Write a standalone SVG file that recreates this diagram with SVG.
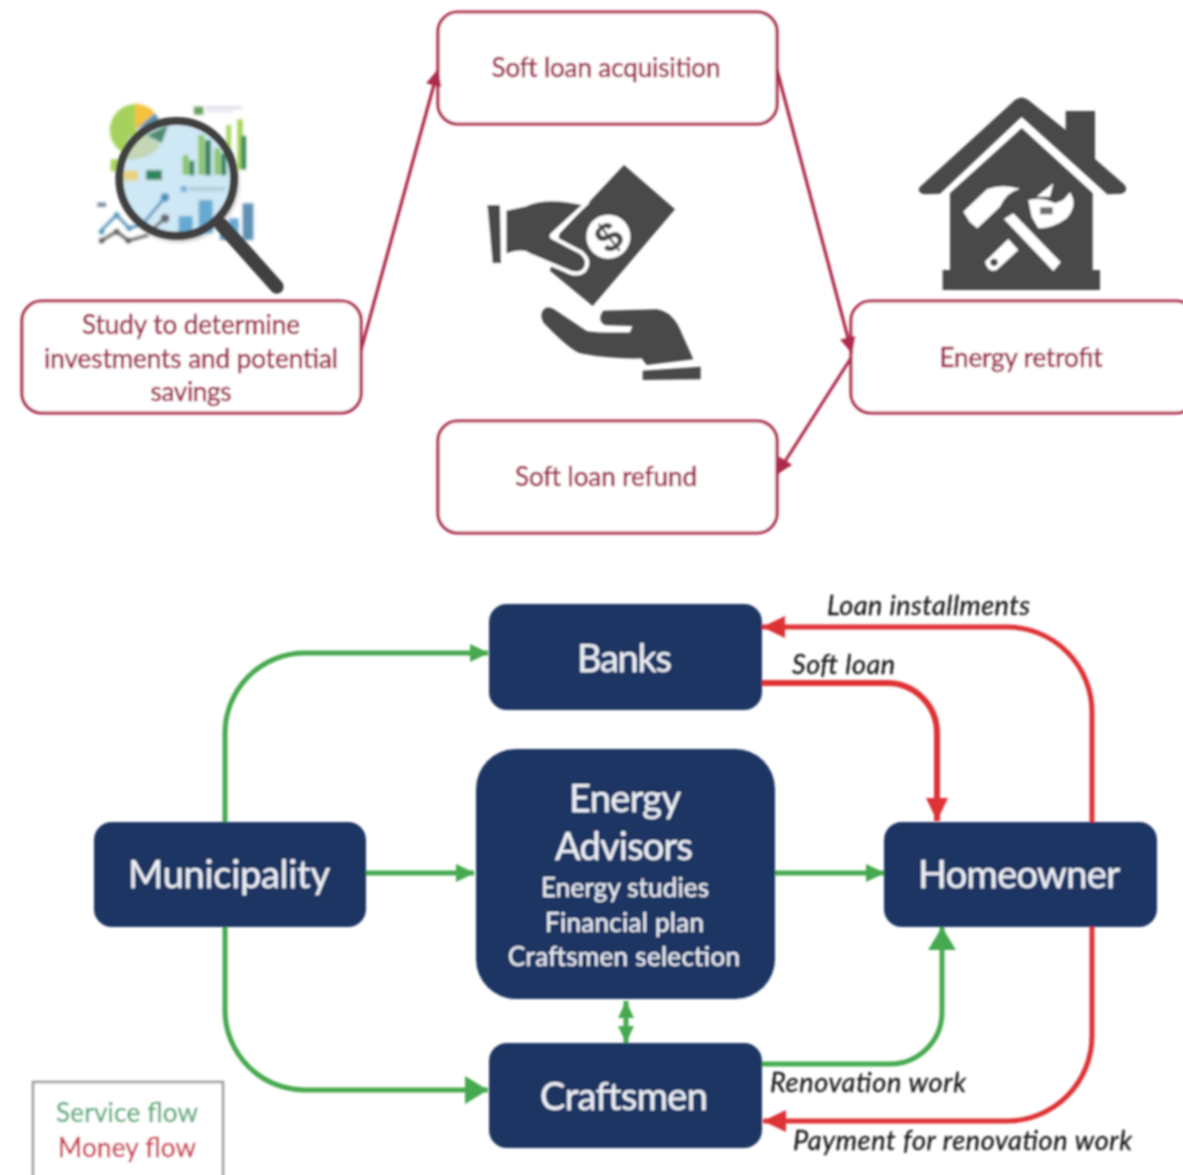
<svg xmlns="http://www.w3.org/2000/svg" width="1183" height="1175" viewBox="0 0 1183 1175">
<style>
text{font-family:Lato,"Liberation Sans",sans-serif;text-anchor:middle}
.box{fill:#fff;stroke:#ae2c4b;stroke-width:3.2}
.rt{fill:#9c1f40;font-size:26px;stroke:#9c1f40;stroke-width:.5}
.dk{fill:#1b3464}
.wt{fill:#eef1f6;font-size:38px;stroke:#eef1f6;stroke-width:.25}
.ws{fill:#eef1f6;font-size:26px;stroke:#eef1f6;stroke-width:.2}
.lb{fill:#1c1c1c;font-size:27px;font-style:italic;stroke:#1c1c1c;stroke-width:.35}
.c{fill:none}
.mr{stroke:#ae2c4b;stroke-width:3.2}
.g{stroke:#46a94f;stroke-width:5}
.r{stroke:#de3236;stroke-width:5}
.ic{fill:#4a4a4a}
.w{fill:#fff}
</style>
<defs>
<filter id="soft" x="-5%" y="-5%" width="110%" height="110%"><feGaussianBlur stdDeviation="0.8"/></filter>
<filter id="soft2" x="-10%" y="-10%" width="120%" height="120%"><feGaussianBlur stdDeviation="3"/></filter>
<filter id="shadow" x="-20%" y="-20%" width="140%" height="140%"><feGaussianBlur stdDeviation="8"/></filter>
<marker id="am" markerUnits="userSpaceOnUse" markerWidth="18" markerHeight="16" refX="16" refY="8" orient="auto"><path d="M0 0L17 8L0 16Z" fill="#ae2c4b"/></marker>
<marker id="ag" markerUnits="userSpaceOnUse" markerWidth="20" markerHeight="20" refX="18" refY="10" orient="auto"><path d="M0 1L19 10L0 19Z" fill="#46a94f"/></marker>
<marker id="agb" markerUnits="userSpaceOnUse" markerWidth="24" markerHeight="28" refX="23" refY="14" orient="auto"><path d="M0 0L23 14L0 28Z" fill="#46a94f"/></marker>
<marker id="ags" markerUnits="userSpaceOnUse" markerWidth="18" markerHeight="18" refX="17" refY="9" orient="auto-start-reverse"><path d="M0 1L17 9L0 17Z" fill="#46a94f"/></marker>
<marker id="ar" markerUnits="userSpaceOnUse" markerWidth="24" markerHeight="24" refX="23" refY="11" orient="auto"><path d="M0 0L23 11L0 22Z" fill="#de3236"/></marker>
</defs>
<rect width="1183" height="1175" fill="#fff"/>
<g filter="url(#soft)">
<g id="node-study"><rect class="box" x="22" y="301" width="339" height="112" rx="20"/>
<text class="rt" x="191" y="334" textLength="218">Study to determine</text>
<text class="rt" x="191" y="368" textLength="294">investments and potential</text>
<text class="rt" x="191" y="401" textLength="81">savings</text></g>
<g id="node-acquisition"><rect class="box" x="438" y="12" width="339" height="112" rx="20"/>
<text class="rt" x="606" y="77" textLength="229">Soft loan acquisition</text></g>
<g id="node-retrofit"><rect class="box" x="851" y="301" width="345" height="112" rx="20"/>
<text class="rt" x="1021" y="367" textLength="163">Energy retrofit</text></g>
<g id="node-refund"><rect class="box" x="438" y="421" width="339" height="112" rx="20"/>
<text class="rt" x="606" y="486" textLength="182">Soft loan refund</text></g>
<g id="node-banks"><rect class="dk" x="489" y="604" width="273" height="106" rx="18"/>
<text class="wt" x="624.500" y="672" textLength="95">Banks</text></g>
<g id="node-municipality"><rect class="dk" x="94" y="822" width="272" height="105" rx="18"/>
<text class="wt" x="229" y="888" textLength="202">Municipality</text></g>
<g id="node-advisors"><rect class="dk" x="476" y="749" width="299" height="250" rx="40"/>
<text class="wt" x="625" y="812" textLength="112">Energy</text>
<text class="wt" x="624" y="860" textLength="138">Advisors</text>
<text class="ws" x="625" y="897" textLength="168">Energy studies</text>
<text class="ws" x="624.500" y="932" textLength="159">Financial plan</text>
<text class="ws" x="624" y="966" textLength="232">Craftsmen selection</text></g>
<g id="node-homeowner"><rect class="dk" x="884" y="822" width="273" height="105" rx="18"/>
<text class="wt" x="1019" y="888" textLength="202">Homeowner</text></g>
<g id="node-craftsmen"><rect class="dk" x="489" y="1043" width="273" height="105" rx="18"/>
<text class="wt" x="624" y="1110" textLength="168">Craftsmen</text></g>
<g id="connectors" class="c">
<path class="c mr" d="M361 350L438 70" marker-end="url(#am)"/>
<path class="c mr" d="M777 70L852 353" marker-end="url(#am)"/>
<path class="c mr" d="M851 358L777 474" marker-end="url(#am)"/>
<path class="c g" d="M225 822V733A80 80 0 0 1 305 653H488" marker-end="url(#ag)"/>
<path class="c g" d="M225 927V1010A80 80 0 0 0 305 1090H488" marker-end="url(#agb)"/>
<path class="c g" d="M366 873H474" marker-end="url(#ag)"/>
<path class="c g" d="M775 873H884" marker-end="url(#ag)"/>
<path class="c g" d="M626 1001V1043" marker-start="url(#ags)" marker-end="url(#ags)"/>
<path class="c g" d="M762 1064H890A52 52 0 0 0 942 1012V927" marker-end="url(#agb)"/>
<path class="c r" d="M1092 822V712A85 85 0 0 0 1007 627H762" marker-end="url(#ar)"/>
<path class="c r" style="stroke-width:6" d="M762 683H887A50 50 0 0 1 937 733V821" marker-end="url(#ar)"/>
<path class="c r" d="M1092 927V1036A85 85 0 0 1 1007 1121H763" marker-end="url(#ar)"/>
</g>
<g id="labels">
<text class="lb" x="928.500" y="615" textLength="203">Loan installments</text>
<text class="lb" x="843.500" y="674" textLength="103">Soft loan</text>
<text class="lb" x="868" y="1092" textLength="196">Renovation work</text>
<text class="lb" x="962.500" y="1150" textLength="339">Payment for renovation work</text>
</g>
<g id="legend"><rect x="33" y="1082" width="190" height="110" fill="#fff" stroke="#9a9a9a" stroke-width="2.500"/>
<text x="127" y="1122" font-size="26" fill="#62ad7c" stroke="#62ad7c" stroke-width=".4" textLength="142">Service flow</text>
<text x="127" y="1157" font-size="26" fill="#c9404f" stroke="#c9404f" stroke-width=".4" textLength="138">Money flow</text></g>
<g id="icon-hands" transform="translate(470 150) scale(.33333)">
<path class="ic" d="M462 45L615 178L368 468L240 362L270 250Z"/>
<path class="ic" stroke="#fff" stroke-width="24" paint-order="stroke" d="M110 182L165 170Q230 140 335 165L243 250Q232 262 250 270L330 312Q356 335 338 358Q320 372 290 356L180 310Q160 292 110 310Z"/>
<path fill="#fff" d="M0 150H106V330H0Z"/>
<path class="ic" d="M110 182L165 170L180 310Q160 292 110 310Z"/>
<path class="ic" d="M52 165L90 165L93 338L68 338Z"/>
<circle class="w" cx="415" cy="260" r="66"/>
<text x="415" y="305" font-size="125" font-weight="700" fill="#4a4a4a" transform="rotate(-38 415 260)" style="font-family:'Liberation Sans',sans-serif">$</text>
<path class="ic" d="M215 490Q225 462 252 478L345 540Q352 550 480 548L488 528L405 525Q380 510 400 482L560 478Q610 485 635 550L670 628L530 645L515 625Q420 628 330 610Q300 600 222 520Q212 505 215 490Z"/>
<path class="ic" d="M518 662L692 650L692 688L518 690Z"/>
</g>
<g id="icon-house" transform="translate(900 85) scale(.33333)">
<path class="ic" d="M60 305L345 45Q365 30 385 45L497 135V78H585V222L672 298Q688 315 665 326L622 328L365 95L120 326L72 328Q48 320 60 305Z"/>
<path class="ic" d="M365 130L578 325V555H600V615H128V555H150V325Z"/>
<path class="w" d="M190 380L262 312Q310 295 360 312Q320 320 300 365L232 430L210 412Z"/>
<path class="w" d="M312 402L340 385L482 532L460 558Z"/>
<path class="w" d="M255 530L325 462L355 495L290 555Q265 565 255 530Z"/>
<circle class="ic" cx="282" cy="532" r="11"/>
<path class="w" d="M385 345Q430 335 465 355L490 345L510 322Q535 360 500 400Q460 430 415 430L395 395Z"/>
<path class="w" d="M410 335L460 295L450 335Z"/>
<path class="ic" d="M420 367H458V388H420Z" opacity=".8"/>
</g>
<g id="icon-study" transform="translate(80 90) scale(.33333)">
<g filter="url(#soft2)">
<path fill="#a6d15c" d="M165 120L165 42A78 78 0 1 0 170 198L240 150Z"/>
<path fill="#f5c23e" d="M165 120V40Q205 45 225 68Z"/>
<path fill="#5f8faa" d="M165 120L225 70L240 92Z"/>
<rect x="92" y="208" width="28" height="36" fill="#a6d15c"/>
<rect x="342" y="50" width="28" height="24" fill="#6b9e5e"/>
<rect x="378" y="50" width="108" height="6" fill="#ccd"/>
<rect x="378" y="62" width="80" height="5" fill="#dde"/>
<rect x="440" y="105" width="12" height="130" fill="#a6d15c"/><rect x="472" y="88" width="16" height="150" fill="#a6d15c"/>
<rect x="484" y="138" width="14" height="100" fill="#2f855a"/>
<rect x="420" y="400" width="30" height="50" fill="#5e91b2"/><rect x="448" y="385" width="28" height="65" fill="#66a9d2"/><rect x="488" y="340" width="32" height="110" fill="#5e91b2"/>
<path d="M60 425L110 375L148 415L205 395" fill="none" stroke="#4f8fb8" stroke-width="8"/>
<path d="M65 452L110 425L145 452L205 435" fill="none" stroke="#555" stroke-width="8"/>
<circle cx="110" cy="375" r="8" fill="#4f8fb8"/><circle cx="65" cy="425" r="8" fill="#4f8fb8"/><circle cx="148" cy="415" r="8" fill="#4f8fb8"/>
<circle cx="65" cy="452" r="8" fill="#555"/><circle cx="110" cy="425" r="8" fill="#555"/><circle cx="145" cy="452" r="8" fill="#555"/>
<rect x="52" y="338" width="26" height="12" fill="#6a7f90"/>
<circle cx="296" cy="275" r="176" fill="#000" opacity=".45" filter="url(#shadow)"/>
<circle cx="290" cy="265" r="165" fill="#cfe8f5"/>
<path fill="#c3d6b5" d="M128 210Q215 210 240 165L195 130L145 140Z"/>
<path fill="#4f8a6e" d="M200 135L265 105L245 160Z"/>
<rect x="440" y="105" width="12" height="100" fill="#a6d15c"/>
<rect x="308" y="195" width="18" height="60" fill="#8cc56a"/><rect x="328" y="212" width="15" height="44" fill="#2f855a"/>
<rect x="355" y="135" width="18" height="120" fill="#8cc56a"/><rect x="375" y="150" width="18" height="106" fill="#2f855a"/>
<rect x="403" y="175" width="18" height="80" fill="#8cc56a"/><rect x="423" y="190" width="16" height="66" fill="#2f855a"/>
<rect x="130" y="242" width="44" height="30" fill="#e8d37f"/>
<rect x="198" y="240" width="48" height="30" fill="#2f855a"/>
<rect x="302" y="288" width="18" height="18" fill="#6eb0d8"/><rect x="326" y="290" width="110" height="14" fill="#b8cfdd"/>
<rect x="296" y="378" width="42" height="60" fill="#66a9d2"/><rect x="356" y="330" width="42" height="100" fill="#66a9d2"/>
<path d="M190 400L255 322" fill="none" stroke="#4f8fb8" stroke-width="8"/>
<path d="M215 420L255 385" fill="none" stroke="#555" stroke-width="8"/>
<circle cx="255" cy="322" r="13" fill="#4f8fb8"/><circle cx="255" cy="385" r="13" fill="#666"/>
</g>
<path d="M425 405L590 590" stroke="#404040" stroke-width="42" stroke-linecap="round" fill="none"/>
<circle cx="290" cy="265" r="172" fill="none" stroke="#3f3f3f" stroke-width="24"/>
</g>
</g>
</svg>
